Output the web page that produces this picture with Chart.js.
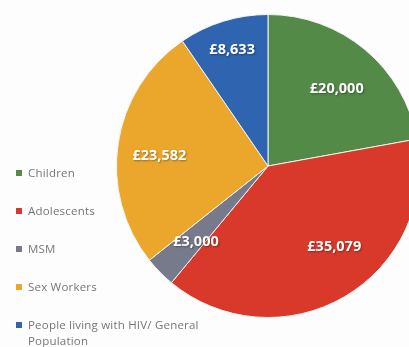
<!DOCTYPE html>
<html>
<head>
<meta charset="utf-8">
<script src="https://cdn.jsdelivr.net/npm/chart.js@4.4.0/dist/chart.umd.min.js"></script>
<style>
    html, body {
        margin: 0;
        padding: 0;
        width: 409px;
        height: 347px;
        overflow: hidden;
        background: #fdfdfd;
    }
    #grafico {
        position: absolute;
        left: 116px;
        top: 14px;
    }
    #legenda {
        position: absolute;
        left: 16px;
        top: 165px;
        width: 205px;
        font-family: "Open Sans", sans-serif;
        font-size: 11.5px;
        letter-spacing: 0.2px;
        color: #767676;
    }
    .item {
        position: relative;
        height: 38px;
        line-height: 16px;
        padding-left: 12px;
    }
    .item span {
        position: absolute;
        left: 0;
        top: 5px;
        width: 6px;
        height: 6px;
    }
</style>
</head>
<body>
<canvas id="grafico" width="304" height="304"></canvas>
<div id="legenda"></div>

<script>
// Categorias e valores (£)
const categorias = ['Children', 'Adolescents', 'MSM', 'Sex Workers', 'People living with HIV/ General Population'];
const valores = [20000, 35079, 3000, 23582, 8633];
const rotulos = ['£20,000', '£35,079', '£3,000', '£23,582', '£8,633'];
const cores = ['#538a48', '#d8392a', '#767a8a', '#eaa72c', '#2e64b0'];

// legenda feita em html pra poder quebrar a linha do ultimo item
const legenda = document.getElementById('legenda');
for (let i = 0; i < categorias.length; i++) {
    const item = document.createElement('div');
    item.className = 'item';
    item.innerHTML = '<span style="background:' + cores[i] + '"></span>' + categorias[i];
    legenda.appendChild(item);
}

// escreve o valor dentro de cada fatia
const rotulosFatias = {
    id: 'rotulosFatias',
    afterDatasetsDraw(chart) {
        const ctx = chart.ctx;
        const fatias = chart.getDatasetMeta(0).data;
        // distancia do centro (fração do raio) e desvio do angulo em graus
        const distancia = [0.68, 0.69, 0.69, 0.72, 0.8];
        const desvio = [2, -9, -2, -3, 0];
        ctx.save();
        ctx.font = 'bold 14.5px "Open Sans"';
        ctx.textAlign = 'center';
        ctx.textBaseline = 'middle';
        ctx.shadowColor = 'rgba(0,0,0,0.35)';
        ctx.shadowBlur = 2;
        ctx.shadowOffsetX = 1;
        ctx.shadowOffsetY = 1;
        ctx.fillStyle = '#ffffff';
        fatias.forEach((arco, i) => {
            const meio = (arco.startAngle + arco.endAngle) / 2 + desvio[i] * Math.PI / 180;
            const r = arco.outerRadius * distancia[i];
            ctx.fillText(rotulos[i], arco.x + Math.cos(meio) * r, arco.y + Math.sin(meio) * r);
        });
        ctx.restore();
    }
};

const dados = {
    labels: categorias,
    datasets: [{
        data: valores,
        backgroundColor: cores,
        borderColor: '#f2f2f2',
        borderWidth: 1
    }]
};

const config = {
    type: 'pie',
    data: dados,
    options: {
        responsive: false,
        animation: false,
        layout: { padding: 0 },
        plugins: {
            legend: { display: false },
            tooltip: { enabled: false }
        }
    },
    plugins: [rotulosFatias]
};

const grafico = new Chart(document.getElementById('grafico'), config);
</script>
</body>
</html>
